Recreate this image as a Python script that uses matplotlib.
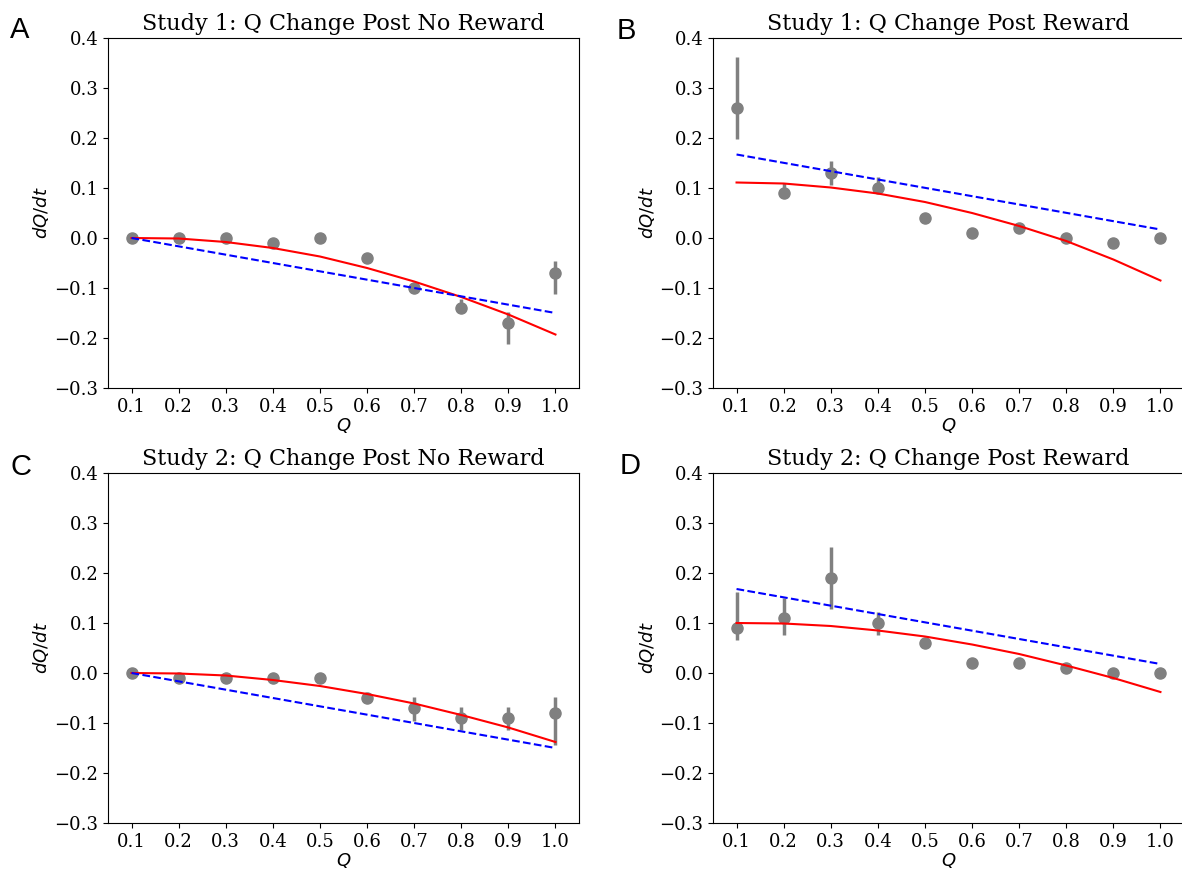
import matplotlib
matplotlib.use("Agg")
import matplotlib.pyplot as plt

plt.rcParams["font.family"] = "DejaVu Serif"
plt.rcParams["mathtext.fontset"] = "dejavusans"

q = [0.1, 0.2, 0.3, 0.4, 0.5, 0.6, 0.7, 0.8, 0.9, 1.0]
xticks = [0.1, 0.2, 0.3, 0.4, 0.5, 0.6, 0.7, 0.8, 0.9, 1.0]
yticks = [-0.3, -0.2, -0.1, 0.0, 0.1, 0.2, 0.3, 0.4]

titles = [
    "Study 1: Q Change Post No Reward",
    "Study 1: Q Change Post Reward",
    "Study 2: Q Change Post No Reward",
    "Study 2: Q Change Post Reward",
]
letters = ["A", "B", "C", "D"]

# observed means with lower / upper ends of the error bars
s1_nr_mean = [0.00, 0.00, 0.00, -0.01, 0.00, -0.04, -0.10, -0.14, -0.17, -0.07]
s1_nr_lo = [-0.004, -0.004, -0.006, -0.015, -0.006, -0.044, -0.107, -0.148, -0.213, -0.113]
s1_nr_hi = [0.003, 0.003, 0.005, -0.006, 0.004, -0.036, -0.093, -0.122, -0.148, -0.047]
s1_nr_fit = [0.0, -0.001, -0.008, -0.020, -0.037, -0.060, -0.087, -0.118, -0.153, -0.193]
s1_nr_lin = [0.0, -0.15]

s1_r_mean = [0.26, 0.09, 0.13, 0.10, 0.04, 0.01, 0.02, 0.00, -0.01, 0.00]
s1_r_lo = [0.197, 0.080, 0.105, 0.090, 0.032, 0.004, 0.012, -0.005, -0.020, -0.004]
s1_r_hi = [0.362, 0.110, 0.153, 0.122, 0.046, 0.020, 0.027, 0.004, 0.000, 0.004]
s1_r_fit = [0.111, 0.109, 0.101, 0.089, 0.072, 0.050, 0.024, -0.006, -0.043, -0.085]
s1_r_lin = [0.167, 0.017]

s2_nr_mean = [0.00, -0.01, -0.01, -0.01, -0.01, -0.05, -0.07, -0.09, -0.09, -0.08]
s2_nr_lo = [-0.004, -0.017, -0.017, -0.020, -0.016, -0.058, -0.095, -0.113, -0.113, -0.143]
s2_nr_hi = [0.003, -0.004, -0.004, -0.003, 0.000, -0.043, -0.047, -0.068, -0.068, -0.047]
s2_nr_fit = [0.0, -0.001, -0.005, -0.014, -0.026, -0.042, -0.061, -0.084, -0.109, -0.138]
s2_nr_lin = [0.0, -0.15]

s2_r_mean = [0.09, 0.11, 0.19, 0.10, 0.06, 0.02, 0.02, 0.01, 0.00, 0.00]
s2_r_lo = [0.067, 0.077, 0.128, 0.077, 0.050, 0.016, 0.015, 0.005, -0.004, -0.004]
s2_r_hi = [0.163, 0.150, 0.253, 0.123, 0.065, 0.024, 0.030, 0.014, 0.004, 0.004]
s2_r_fit = [0.100, 0.099, 0.094, 0.085, 0.073, 0.057, 0.038, 0.015, -0.010, -0.038]
s2_r_lin = [0.168, 0.018]

panels = [
    (s1_nr_mean, s1_nr_lo, s1_nr_hi, s1_nr_fit, s1_nr_lin),
    (s1_r_mean, s1_r_lo, s1_r_hi, s1_r_fit, s1_r_lin),
    (s2_nr_mean, s2_nr_lo, s2_nr_hi, s2_nr_fit, s2_nr_lin),
    (s2_r_mean, s2_r_lo, s2_r_hi, s2_r_fit, s2_r_lin),
]

fig = plt.figure(figsize=(11.82, 8.72), dpi=100)

W, H = 1182, 872
# panel boxes in pixels (left, top, width, height); right panels run off the edge
boxes = [
    (108, 38, 471, 350),
    (713, 38, 471, 350),
    (108, 473, 471, 350),
    (713, 473, 471, 350),
]
letter_pos = [(10, 30), (617, 31), (10, 467), (620, 466)]

for i, (mean, lo, hi, fit, lin) in enumerate(panels):
    x0, y0, w, h = boxes[i]
    ax = fig.add_axes([x0 / W, 1 - (y0 + h) / H, w / W, h / H])

    err = [[m - l for m, l in zip(mean, lo)], [u - m for m, u in zip(mean, hi)]]
    ax.errorbar(q, mean, yerr=err, fmt="o", color="grey", markersize=8,
                elinewidth=2.5, capsize=0, zorder=2)
    ax.plot(q, fit, color="red", linewidth=1.5, zorder=3)
    ax.plot([q[0], q[-1]], lin, color="blue", linestyle="--", linewidth=1.5, zorder=3)

    ax.set_xlim(0.05, 1.05)
    ax.set_ylim(-0.3, 0.4)
    ax.set_xticks(xticks)
    ax.set_xticklabels([f"{t:.1f}" for t in xticks])
    ax.set_yticks(yticks)
    ax.set_yticklabels([f"{t:.1f}".replace("-", "\u2212") for t in yticks])
    ax.tick_params(labelsize=13)
    ax.set_title(titles[i], fontsize=16, pad=6)
    ax.set_xlabel("$Q$", fontsize=13, labelpad=0)
    ax.set_ylabel("$dQ/dt$", fontsize=13, labelpad=2)
    if i % 2 == 1:
        # the right column is cut at the image edge, so no right spine shows
        ax.spines["right"].set_visible(False)

    lx, ly = letter_pos[i]
    fig.text(lx / W, 1 - ly / H, letters[i], fontsize=21, family="Liberation Sans",
             ha="left", va="center")

fig.savefig("out.png", dpi=100)
